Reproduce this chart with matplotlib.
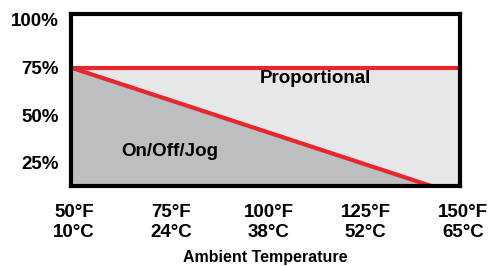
import matplotlib.pyplot as plt
from matplotlib.transforms import ScaledTranslation

plt.rcParams['font.family'] = ['Liberation Sans', 'DejaVu Sans']
plt.rcParams['font.weight'] = 'bold'

# temperature ticks (°F) and their labels
temp_ticks = [50, 75, 100, 125, 150]
temp_labels = ["50°F\n10°C", "75°F\n24°C", "100°F\n38°C", "125°F\n52°C", "150°F\n65°C"]
pct_ticks = [25, 50, 75, 100]
pct_labels = ["25%", "50%", "75%", "100%"]

# boundary lines
prop_x = [50, 150]
prop_y = [75, 75]
onoff_x = [50, 142.6]
onoff_y = [75, 12.9]

RED = "#E8262D"

fig = plt.figure(figsize=(4.91, 2.66), dpi=100)
ax = fig.add_axes([71 / 491, 1 - 186 / 266, (460 - 71) / 491, (186 - 14) / 266])
ax.set_xlim(50, 150)
ax.set_ylim(12.9, 103.1)

# light gray: under 75% line
ax.fill_between(prop_x, 0, prop_y, color="#E6E7E9", lw=0, zorder=1)
# darker gray: under diagonal
ax.fill_between(onoff_x, 0, onoff_y, color="#BDBEC0", lw=0, zorder=2)

ax.plot(prop_x, prop_y, color=RED, lw=3, solid_capstyle="butt", zorder=3)
ax.plot(onoff_x, onoff_y, color=RED, lw=3, solid_capstyle="butt", zorder=3)

ax.text(112.8, 69.3, "Proportional", ha="center", va="center", fontsize=13.5, fontweight="bold")
ax.text(75.4, 31.0, "On/Off/Jog", ha="center", va="center", fontsize=13.5, fontweight="bold")

ax.set_xticks(temp_ticks)
ax.set_xticklabels(temp_labels, fontsize=13.5, fontweight="bold", linespacing=1.2)
ax.set_yticks(pct_ticks)
ax.set_yticklabels(pct_labels, fontsize=13.5, fontweight="bold")
ax.tick_params(length=0)
ax.tick_params(axis="y", pad=9)
ax.tick_params(axis="x", pad=13)
shift = ScaledTranslation(3 / 100, 0, fig.dpi_scale_trans)
for lab in ax.get_xticklabels():
    lab.set_transform(lab.get_transform() + shift)
ax.set_xlabel("Ambient Temperature", fontsize=11.5, fontweight="bold", labelpad=7)

for s in ax.spines.values():
    s.set_linewidth(3)
    s.set_color("black")
    s.set_zorder(5)

fig.savefig("out.png", dpi=100)
